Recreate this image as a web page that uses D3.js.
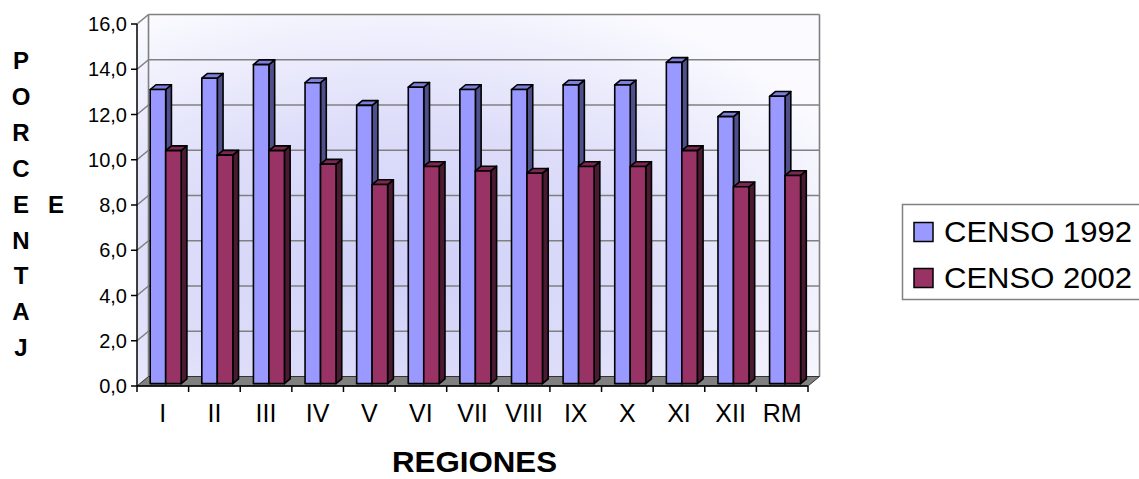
<!DOCTYPE html>
<html>
<head>
<meta charset="utf-8">
<script src="https://cdn.jsdelivr.net/npm/d3@7"></script>
<style>
  html, body { margin: 0; padding: 0; background: #fff; }
  svg { display: block; font-family: Arial, "Liberation Sans", sans-serif; }
</style>
</head>
<body>
<svg id="chart" width="1139" height="479"></svg>
<script>
// Regions and census percentages
const regions = ["I", "II", "III", "IV", "V", "VI", "VII", "VIII", "IX", "X", "XI", "XII", "RM"];
const censo1992 = [13.0, 13.5, 14.1, 13.3, 12.3, 13.1, 13.0, 13.0, 13.2, 13.2, 14.2, 11.8, 12.7];
const censo2002 = [10.3, 10.1, 10.3, 9.7, 8.8, 9.6, 9.4, 9.3, 9.6, 9.6, 10.3, 8.7, 9.2];
const seriesNames = ["CENSO 1992", "CENSO 2002"];
const yTicks = [0, 2, 4, 6, 8, 10, 12, 14, 16];
const titleLetters = ["P", "O", "R", "C", "E", "N", "T", "A", "J"];

const series = [
  { name: seriesNames[0], values: censo1992, front: "#9999ff", topFace: "#7e7edb", side: "#4f4f8c" },
  { name: seriesNames[1], values: censo2002, front: "#993366", topFace: "#7a2850", side: "#4a1a32" }
];

const svg = d3.select("#chart");

// Front plane of the plot box; depth is drawn as an oblique offset
const plotLeft = 137, plotRight = 808, plotBottom = 386, plotTop = 24;
const DX = 11.5, DY = 9.5;
const proj = (px, py, z) => [px + z * DX, py - z * DY];

const x = d3.scaleBand().domain(regions).range([plotLeft, plotRight]).paddingInner(0.4).paddingOuter(0.2);
const xEdge = d3.scaleBand().domain(regions).range([plotLeft, plotRight]).padding(0);
const x1 = d3.scaleBand().domain(seriesNames).range([0, x.bandwidth()]);
const y = d3.scaleLinear().domain([0, 16]).range([plotBottom, plotTop]);

// Wall shading: soft lavender glow from the centre of the walls
const defs = svg.append("defs");
const grad = defs.append("radialGradient").attr("id", "wall")
  .attr("gradientUnits", "userSpaceOnUse")
  .attr("cx", 0).attr("cy", 0).attr("r", 1)
  .attr("gradientTransform", "translate(400,265) scale(500,290)");
grad.append("stop").attr("offset", 0).attr("stop-color", "#cfcff8");
grad.append("stop").attr("offset", 0.5).attr("stop-color", "#dedefa");
grad.append("stop").attr("offset", 1).attr("stop-color", "#fbfbff");

const poly = pts => pts.map(p => p.join(",")).join(" ");

// side wall + back wall
svg.append("polygon")
  .attr("points", poly([proj(plotLeft, plotBottom, 0), proj(plotLeft, plotBottom, 1), proj(plotLeft, y(16), 1), proj(plotLeft, y(16), 0)]))
  .attr("fill", "url(#wall)");
svg.append("polygon")
  .attr("points", poly([proj(plotLeft, plotBottom, 1), proj(plotRight, plotBottom, 1), proj(plotRight, y(16), 1), proj(plotLeft, y(16), 1)]))
  .attr("fill", "url(#wall)");

// gridlines on back wall and left wall
const grid = svg.append("g").attr("stroke", "#808080").attr("stroke-width", 1.6).attr("fill", "none");
yTicks.filter(v => v > 0).forEach(v => {
  const a = proj(plotLeft, y(v), 1), b = proj(plotRight, y(v), 1), c = proj(plotLeft, y(v), 0);
  grid.append("line").attr("x1", a[0]).attr("y1", a[1]).attr("x2", b[0]).attr("y2", b[1]);
  grid.append("line").attr("x1", c[0]).attr("y1", c[1]).attr("x2", a[0]).attr("y2", a[1]);
});
{
  const a = proj(plotLeft, plotBottom, 1), b = proj(plotLeft, y(16), 1);
  grid.append("line").attr("x1", a[0]).attr("y1", a[1]).attr("x2", b[0]).attr("y2", b[1]);
  const c = proj(plotRight, plotBottom, 1), d = proj(plotRight, y(16), 1);
  grid.append("line").attr("x1", c[0]).attr("y1", c[1]).attr("x2", d[0]).attr("y2", d[1]);
}

// floor
svg.append("polygon")
  .attr("points", poly([proj(plotLeft, plotBottom, 0), proj(plotRight, plotBottom, 0), proj(plotRight, plotBottom, 1), proj(plotLeft, plotBottom, 1)]))
  .attr("fill", "#808080").attr("stroke", "#333").attr("stroke-width", 1);

// bars
const zf = 0.25, zb = 0.75;
const bars = svg.append("g").attr("stroke", "#000").attr("stroke-width", 1.6).attr("stroke-linejoin", "round");
regions.forEach((r, i) => {
  series.forEach(s => {
    const x0 = x(r) + x1(s.name), w = x1.bandwidth();
    const yv = y(s.values[i]), y0 = y(0);
    const g = bars.append("g");
    g.append("polygon").attr("fill", s.side)
      .attr("points", poly([proj(x0 + w, yv, zf), proj(x0 + w, yv, zb), proj(x0 + w, y0, zb), proj(x0 + w, y0, zf)]));
    g.append("polygon").attr("fill", s.topFace)
      .attr("points", poly([proj(x0, yv, zf), proj(x0 + w, yv, zf), proj(x0 + w, yv, zb), proj(x0, yv, zb)]));
    g.append("polygon").attr("fill", s.front)
      .attr("points", poly([proj(x0, yv, zf), proj(x0 + w, yv, zf), proj(x0 + w, y0, zf), proj(x0, y0, zf)]));
  });
});

// y axis
const yAxis = svg.append("g");
yAxis.append("line").attr("x1", plotLeft).attr("x2", plotLeft).attr("y1", y(0)).attr("y2", y(16))
  .attr("stroke", "#000").attr("stroke-width", 1.5);
yTicks.forEach(v => {
  yAxis.append("line").attr("x1", plotLeft - 6).attr("x2", plotLeft).attr("y1", y(v)).attr("y2", y(v))
    .attr("stroke", "#000").attr("stroke-width", 1.5);
  yAxis.append("text").attr("x", 127).attr("y", y(v) + 7)
    .attr("text-anchor", "end").attr("font-size", 20).attr("fill", "#000")
    .text(d3.format(".1f")(v).replace(".", ","));
});

// x axis
const xAxis = svg.append("g");
xAxis.append("line").attr("x1", plotLeft).attr("x2", plotRight).attr("y1", plotBottom).attr("y2", plotBottom)
  .attr("stroke", "#000").attr("stroke-width", 1.5);
regions.forEach((r, i) => {
  const e = xEdge(r);
  xAxis.append("line").attr("x1", e).attr("x2", e).attr("y1", plotBottom).attr("y2", plotBottom + 6)
    .attr("stroke", "#000").attr("stroke-width", 1.5);
  if (i === regions.length - 1) {
    xAxis.append("line").attr("x1", plotRight).attr("x2", plotRight).attr("y1", plotBottom).attr("y2", plotBottom + 6)
      .attr("stroke", "#000").attr("stroke-width", 1.5);
  }
  xAxis.append("text").attr("x", e + xEdge.bandwidth() / 2).attr("y", 422)
    .attr("text-anchor", "middle").attr("font-size", 25).attr("fill", "#000").text(r);
});

// axis titles
svg.append("text").attr("x", 474.5).attr("y", 472).attr("text-anchor", "middle")
  .attr("font-size", 30).attr("font-weight", "bold")
  .attr("textLength", 165).attr("lengthAdjust", "spacingAndGlyphs").text("REGIONES");
titleLetters.forEach((l, i) => {
  svg.append("text").attr("x", 21).attr("y", 69 + i * 35.9).attr("text-anchor", "middle")
    .attr("font-size", 24).attr("font-weight", "bold").text(l);
});
svg.append("text").attr("x", 56).attr("y", 69 + 4 * 35.9).attr("text-anchor", "middle")
  .attr("font-size", 24).attr("font-weight", "bold").text("E");

// legend
const legend = svg.append("g");
legend.append("rect").attr("x", 902.5).attr("y", 204.5).attr("width", 260).attr("height", 95)
  .attr("fill", "#fff").attr("stroke", "#808080").attr("stroke-width", 1.5);
series.forEach((s, i) => {
  const cy = 232 + i * 46;
  legend.append("rect").attr("x", 914).attr("y", cy - 9.5).attr("width", 19).attr("height", 19)
    .attr("fill", s.front).attr("stroke", "#000").attr("stroke-width", 1.5);
  legend.append("text").attr("x", 944).attr("y", cy + 10).attr("font-size", 29).attr("fill", "#000")
    .attr("textLength", 188).attr("lengthAdjust", "spacingAndGlyphs")
    .text(s.name);
});
</script>
</body>
</html>
